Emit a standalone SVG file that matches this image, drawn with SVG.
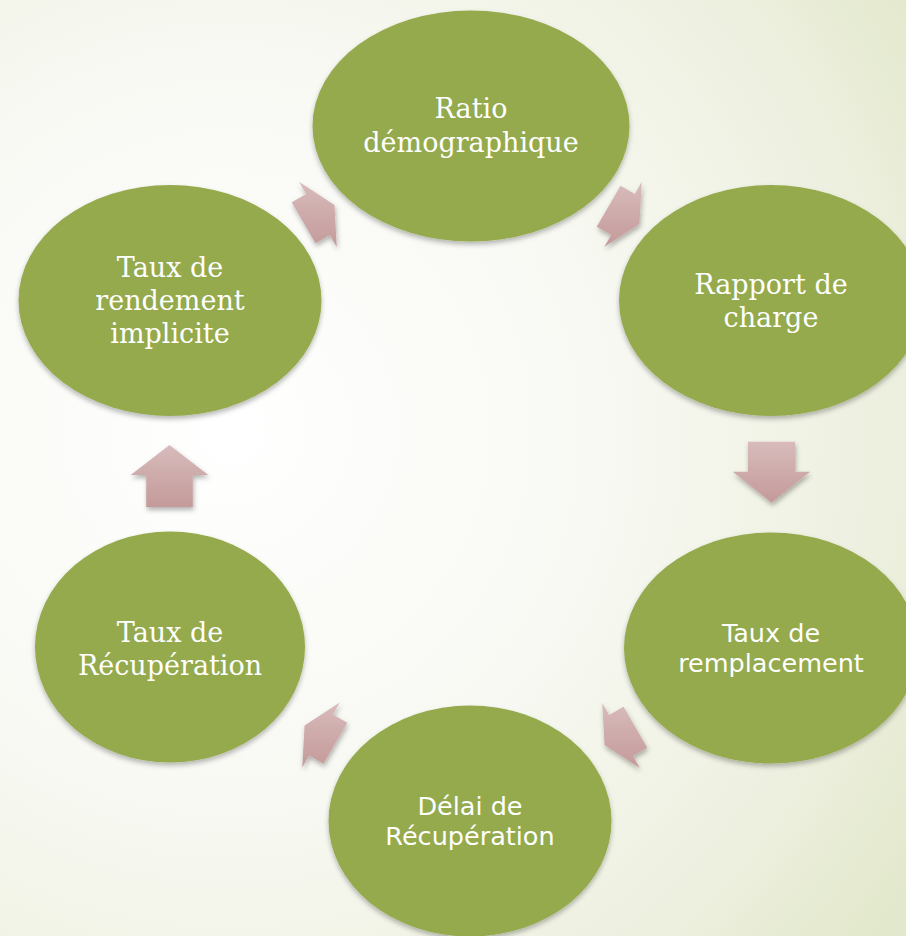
<svg xmlns="http://www.w3.org/2000/svg" width="906" height="936" viewBox="0 0 906 936">
<defs>
<radialGradient id="bg" gradientUnits="userSpaceOnUse" cx="230" cy="430" r="820">
<stop offset="0" stop-color="#ffffff"/>
<stop offset="0.45" stop-color="#f8f9f3"/>
<stop offset="0.8" stop-color="#edf0df"/>
<stop offset="1" stop-color="#e2e8cb"/>
</radialGradient>
<linearGradient id="arr" x1="0" y1="0" x2="0" y2="1">
<stop offset="0" stop-color="#d8bbbb"/>
<stop offset="1" stop-color="#c49a9a"/>
</linearGradient>
<filter id="sh" x="-20%" y="-20%" width="140%" height="150%">
<feDropShadow dx="0" dy="3" stdDeviation="2.5" flood-color="#000" flood-opacity="0.28"/>
</filter>
<filter id="ash" x="-30%" y="-30%" width="160%" height="170%">
<feDropShadow dx="1" dy="3" stdDeviation="2.5" flood-color="#000" flood-opacity="0.3"/>
</filter>
</defs>
<style>
.node ellipse{fill:#94aa4d;filter:url(#sh)}
.serif{font-family:"DejaVu Serif","Liberation Serif",serif;font-size:27px;fill:#ffffff;text-anchor:middle}
.sans{font-family:"DejaVu Sans","Liberation Sans",sans-serif;font-size:25.5px;fill:#ffffff;text-anchor:middle}
.connectors polygon{fill:url(#arr);filter:url(#ash)}
</style>
<rect x="0" y="0" width="906" height="936" fill="url(#bg)"/>
<g id="n1" class="node">
<ellipse cx="471" cy="126" rx="158.5" ry="115.5"/>
<text class="serif" x="471" y="118">Ratio</text>
<text class="serif" x="471" y="152">démographique</text>
</g>
<g id="n2" class="node">
<ellipse cx="771" cy="300.5" rx="152" ry="115.5"/>
<text class="serif" x="771" y="293.5">Rapport de</text>
<text class="serif" x="771" y="326.5">charge</text>
</g>
<g id="n3" class="node">
<ellipse cx="771" cy="648" rx="147" ry="115.5"/>
<text class="sans" x="771" y="642">Taux de</text>
<text class="sans" x="771" y="672">remplacement</text>
</g>
<g id="n4" class="node">
<ellipse cx="470" cy="821" rx="141.5" ry="115.5"/>
<text class="sans" x="470" y="815">Délai de</text>
<text class="sans" x="470" y="845">Récupération</text>
</g>
<g id="n5" class="node">
<ellipse cx="170" cy="647" rx="135" ry="115.5"/>
<text class="serif" x="170" y="641.5">Taux de</text>
<text class="serif" x="170" y="674.5">Récupération</text>
</g>
<g id="n6" class="node">
<ellipse cx="170" cy="300.5" rx="151.5" ry="115.5"/>
<text class="serif" x="170" y="276.5">Taux de</text>
<text class="serif" x="170" y="310">rendement</text>
<text class="serif" x="170" y="343">implicite</text>
</g>
<g id="connectors" class="connectors">
<polygon points="620.47,185.68 634.85,193.98 641.75,182.02 639.45,224 604.25,246.98 611.15,235.02 596.77,226.72"/>
<polygon points="748,441.7 795,441.7 795,471.7 810.2,471.7 771.5,502.7 732.8,471.7 748,471.7"/>
<polygon points="647.23,747.72 632.85,756.02 639.75,767.98 604.55,745 602.25,703.02 609.15,714.98 623.53,706.68"/>
<polygon points="323.53,763.82 309.15,755.52 302.25,767.48 304.55,725.5 339.75,702.52 332.85,714.48 347.23,722.78"/>
<polygon points="169.5,445 208.3,475 192.8,475 192.8,507 146.2,507 146.2,475 130.7,475"/>
<polygon points="291.77,202.28 306.15,193.98 299.25,182.02 334.45,205 336.75,246.98 329.85,235.02 315.47,243.32"/>
</g>
</svg>
